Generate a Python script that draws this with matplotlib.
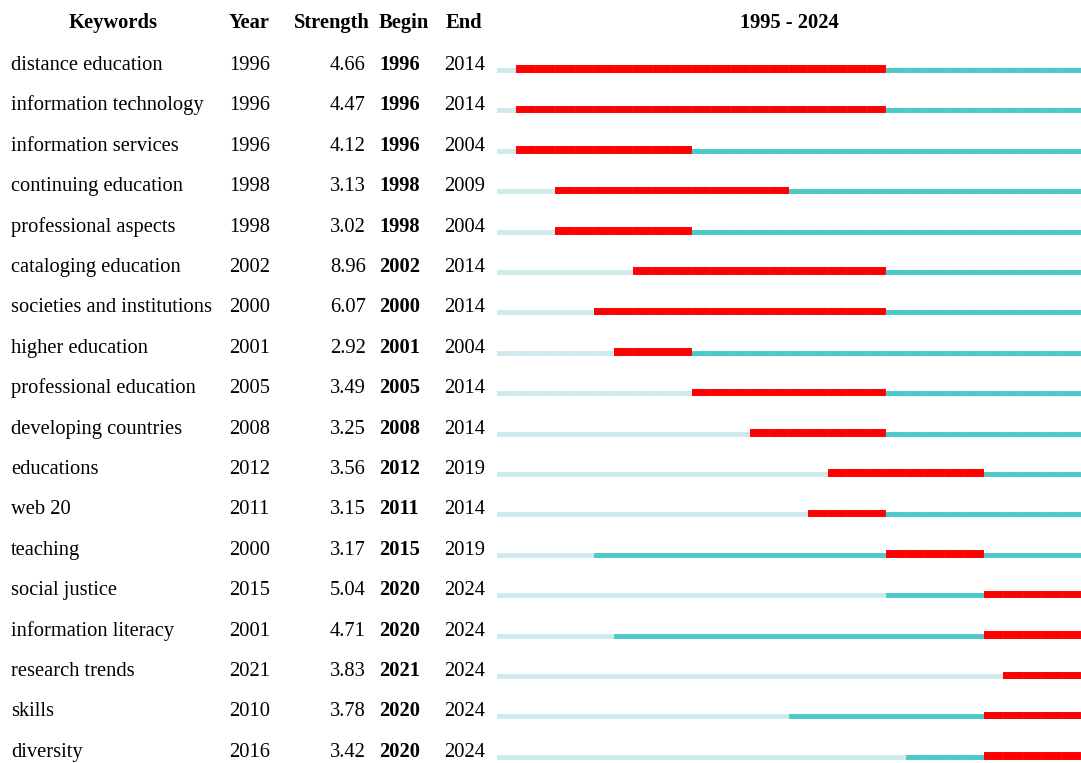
import matplotlib.pyplot as plt

# top keywords with the strongest citation bursts, 1995 - 2024
keywords = ["distance education", "information technology", "information services",
            "continuing education", "professional aspects", "cataloging education",
            "societies and institutions", "higher education", "professional education",
            "developing countries", "educations", "web 20", "teaching", "social justice",
            "information literacy", "research trends", "skills", "diversity"]
first_year = [1996, 1996, 1996, 1998, 1998, 2002, 2000, 2001, 2005, 2008, 2012, 2011,
              2000, 2015, 2001, 2021, 2010, 2016]
strength = [4.66, 4.47, 4.12, 3.13, 3.02, 8.96, 6.07, 2.92, 3.49, 3.25, 3.56, 3.15,
            3.17, 5.04, 4.71, 3.83, 3.78, 3.42]
begin = [1996, 1996, 1996, 1998, 1998, 2002, 2000, 2001, 2005, 2008, 2012, 2011,
         2015, 2020, 2020, 2021, 2020, 2020]
end = [2014, 2014, 2004, 2009, 2004, 2014, 2014, 2004, 2014, 2014, 2019, 2014,
       2019, 2024, 2024, 2024, 2024, 2024]
start, stop = 1995, 2024

RED = "#ff0000"
TEAL = "#4cc9c9"
PALE = "#d0eaec"

plt.rcParams["font.family"] = ["Liberation Serif", "DejaVu Serif"]
fs = 14.8

fig = plt.figure(figsize=(10.81, 7.63), dpi=100)
W, H = 1081, 763
row_px = 40.4
top_row = 62
ylim = ((H - top_row) / row_px, -top_row / row_px)

tab = fig.add_axes([0, 0, 497 / W, 1])
tab.set_xlim(0, 497)
tab.set_ylim(*ylim)
tab.axis("off")

bars = fig.add_axes([497 / W, 0, (W - 497) / W, 1])
bars.set_xlim(start, stop + 1)
bars.set_ylim(*ylim)
bars.axis("off")

# text sits on a baseline a little below the row centre
head_y = (28 - top_row) / row_px
base_y = 8 / row_px
kw = dict(va="baseline", fontsize=fs)
tab.text(113, head_y, "Keywords", ha="center", fontweight="bold", **kw)
tab.text(229, head_y, "Year", ha="left", fontweight="bold", **kw)
tab.text(370, head_y, "Strength", ha="right", fontweight="bold", **kw)
tab.text(379, head_y, "Begin", ha="left", fontweight="bold", **kw)
tab.text(446, head_y, "End", ha="left", fontweight="bold", **kw)
bars.text((start + stop + 1) / 2, head_y, f"{start} - {stop}", ha="center",
          fontweight="bold", **kw)

bottom = 11 / row_px
for i, word in enumerate(keywords):
    tab.text(11, i + base_y, word, ha="left", **kw)
    tab.text(229, i + base_y, str(first_year[i]), ha="left", **kw)
    tab.text(366, i + base_y, f"{strength[i]:.2f}", ha="right", **kw)
    tab.text(379, i + base_y, str(begin[i]), ha="left", fontweight="bold", **kw)
    tab.text(444, i + base_y, str(end[i]), ha="left", **kw)

    for yr in range(start, stop + 1):
        if begin[i] <= yr <= end[i]:
            c, h = RED, 7.5 / row_px
        elif yr < first_year[i]:
            c, h = PALE, 5 / row_px
        else:
            c, h = TEAL, 5 / row_px
        bars.barh(i + bottom - h, 1, height=h, left=yr, align="edge", color=c,
                  edgecolor=(1, 1, 1, 0.12), linewidth=0.3)

fig.savefig("out.png", dpi=100)
